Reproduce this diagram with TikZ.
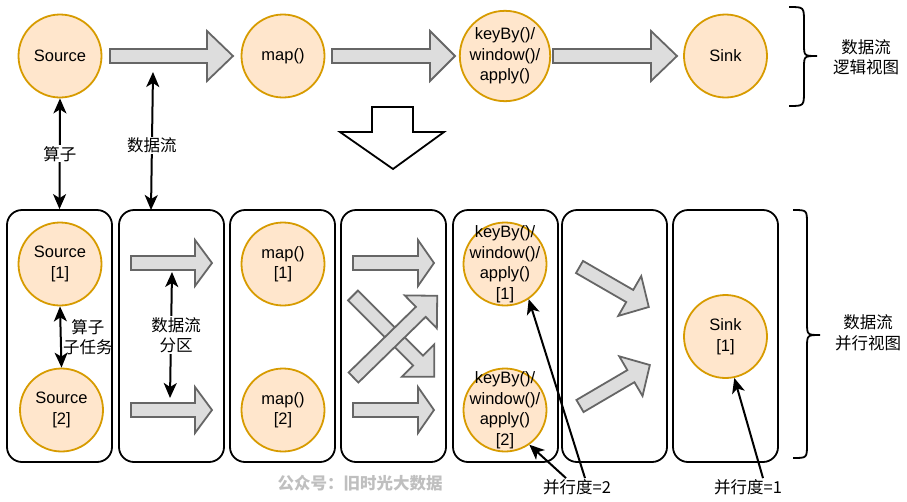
\documentclass[tikz,border=0pt]{standalone}
\usepackage{fontspec}
\setmainfont{Liberation Sans}
\newfontfamily\cjk{Noto Sans CJK SC}
\usepackage{tikz}
\usetikzlibrary{arrows.meta}

\definecolor{opfill}{HTML}{FFE6CC}
\definecolor{opline}{HTML}{D79B00}
\definecolor{flowfill}{HTML}{DDDDDD}
\definecolor{flowline}{HTML}{666666}

%% block arrow: start, angle, length, head length, head half width
\newcommand{\flowarrow}[5]{%
  \begin{scope}[shift={#1}, rotate=#2]
    \draw[flow] (0,-7) -- ({#3-#4},-7) -- ({#3-#4},-#5) -- (#3,0)
      -- ({#3-#4},#5) -- ({#3-#4},7) -- (0,7) -- cycle;
  \end{scope}}

\begin{document}
\begin{tikzpicture}[x=1pt, y=-1pt,
    every node/.style={font=\fontsize{16.5}{20.5}\selectfont},
    op/.style={circle, draw=opline, fill=opfill, line width=1.8pt,
      minimum size=83pt, inner sep=0pt, align=center},
    stage/.style={draw, rounded corners=15pt, line width=1.8pt,
      minimum width=105pt, minimum height=252pt},
    flow/.style={draw=flowline, fill=flowfill, line width=1.8pt},
    dbl/.style={{Stealth[length=15pt,width=13pt,inset=4pt]}-{Stealth[length=15pt,width=13pt,inset=4pt]},
      line width=2pt},
    ptr/.style={-{Stealth[length=15pt,width=13pt,inset=4pt]}, line width=2pt},
    lbl/.style={align=center, inner sep=1pt}]
    \useasboundingbox (0,0) rectangle (907,501);

    %% logical view
    \node[op] (src) at (60,56) {Source};
    \node[op] (mapop) at (283,56) {map()};
    \node[op] (keyop) at (505,56) {keyBy()/\\window()/\\apply()};
    \node[op] (sink) at (725.5,56) {Sink};
    \flowarrow{(110,56)}{0}{123}{26}{25}
    \flowarrow{(332,56)}{0}{123}{25}{25}
    \flowarrow{(553,56)}{0}{124}{26}{25}

    %% brace
    \draw[line width=1.8pt] (789,7) .. controls (804,7) .. (804,22) -- (804,44)
      .. controls (804,56) .. (817,56) .. controls (804,56) .. (804,68)
      -- (804,91) .. controls (804,106) .. (789,106);
    \node[lbl] (logic) at (866,57) {\cjk 数据流\\\cjk 逻辑视图};

    %% down arrow
    \draw[line width=1.8pt, fill=white] (372,107) -- (413,107) -- (413,132)
      -- (444,132) -- (393,169) -- (340,132) -- (372,132) -- cycle;

    %% parallel view
    \foreach \x [count=\i] in {59.5,171.5,282.5,393.5,505.5,614.5,725.5}
        \node[stage] (box\i) at (\x,336) {};

    \node[op] (src1) at (60,264) {Source\\{[1]}};
    \node[op] (src2) at (61.5,410) {Source\\{[2]}};
    \node[op] (map1) at (283,264) {map()\\{[1]}};
    \node[op] (map2) at (283,410) {map()\\{[2]}};
    \node[op] (key1) at (505,264) {};
    \node[op] (key2) at (505,410) {};
    \node[lbl] (key1txt) at (key1) {keyBy()/\\window()/\\apply()\\{[1]}};
    \node[lbl] (key2txt) at (key2) {keyBy()/\\window()/\\apply()\\{[2]}};
    \node[op] (sink1) at (725.5,336.5) {Sink\\{[1]}};

    \flowarrow{(131,263)}{0}{81}{17}{23}
    \flowarrow{(131,410)}{0}{81}{17}{23}
    \flowarrow{(353,263)}{0}{81}{16}{23}
    \flowarrow{(353,410)}{0}{81}{16}{23}
    \flowarrow{(353,295.5)}{-45}{115}{23}{23}
    \flowarrow{(353.5,377.5)}{44.3}{117}{23}{23}
    \flowarrow{(579.5,267)}{-30}{80}{22}{23}
    \flowarrow{(580,406)}{30.4}{81}{22}{23}

    \draw[line width=1.8pt] (793,210) .. controls (807,210) .. (807,224) -- (807,322)
      .. controls (807,335) .. (820,335) .. controls (807,335) .. (807,348)
      -- (807,444) .. controls (807,458) .. (793,458);
    \node[lbl] (para) at (868,333) {\cjk 数据流\\\cjk 并行视图};

    %% labels
    \coordinate (dtop) at (153,72);
    \coordinate (dbot) at (151,210);
    \coordinate (ptop) at (172,272);
    \coordinate (pbot) at (170,398);
    \draw[dbl] (src.south) -- node[lbl, fill=white] {\cjk 算子} (box1.north);
    \draw[dbl] (dtop) -- node[lbl, fill=white, pos=0.53] {\cjk 数据流} (dbot);
    \draw[dbl] (src1.south) -- node[lbl, xshift=27pt] {\cjk 算子\\\cjk 子任务} (src2.north);
    \draw[dbl] (ptop) -- node[lbl, fill=white, xshift=5pt] {\cjk 数据流\\\cjk 分区} (pbot);

    \node[lbl] (par2) at (577,487) {\cjk 并行度=2};
    \node[lbl] (par1) at (748,487) {\cjk 并行度=1};
    \draw[ptr] ([xshift=8pt]par2.north) -- (key1.-56);
    \draw[ptr] ([xshift=-11pt]par2.north) -- (key2.-55);
    \draw[ptr] ([xshift=15pt]par1.north) -- (sink1.-78);

    \node[lbl, text=black!25] (mark) at (360,483) {\cjk\bfseries 公众号：旧时光大数据};
\end{tikzpicture}
\end{document}
